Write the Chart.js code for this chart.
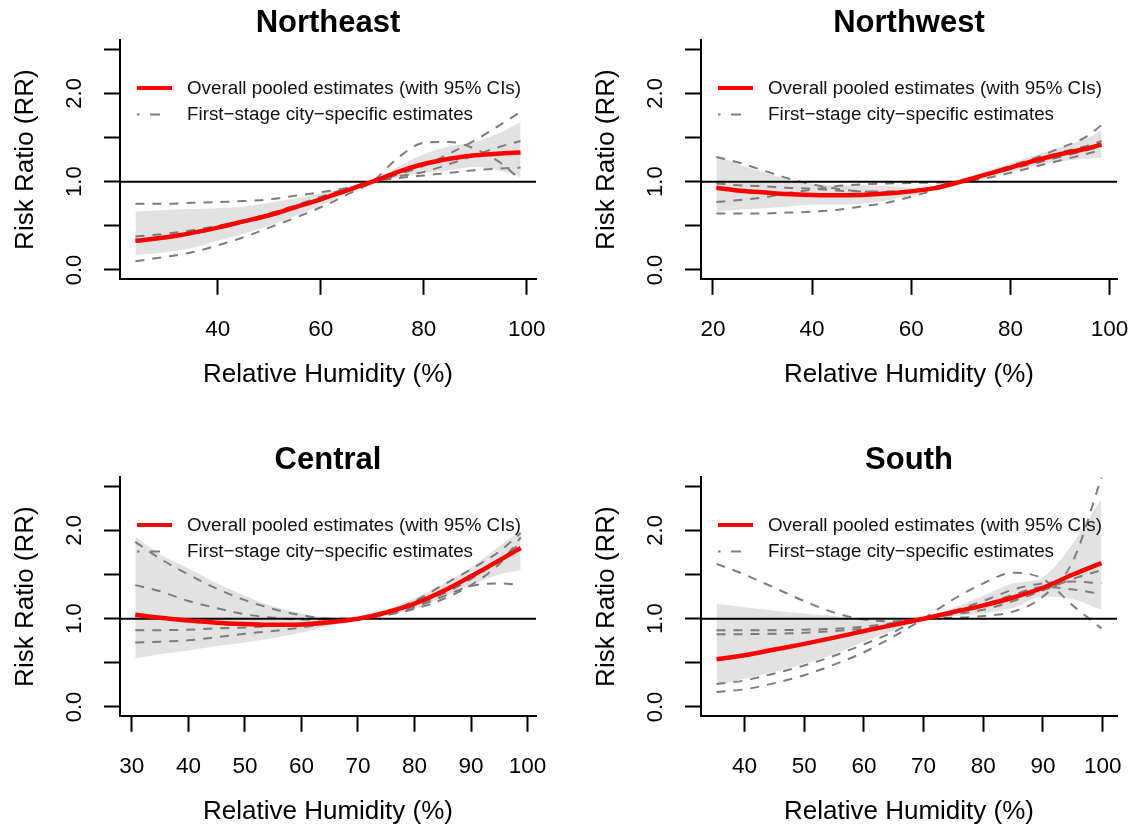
<!DOCTYPE html>
<html><head><meta charset="utf-8">
<script src="https://cdn.jsdelivr.net/npm/chart.js@4.4.1/dist/chart.umd.min.js"></script>
<style>
html,body{margin:0;padding:0;background:#fff;width:1144px;height:827px;overflow:hidden;position:relative;}
canvas.panel{position:absolute;}
</style></head><body>
<canvas id="pNE" class="panel" width="572" height="390" style="left:0px;top:0px;width:572px;height:390px"></canvas>
<canvas id="pNW" class="panel" width="563" height="390" style="left:581px;top:0px;width:563px;height:390px"></canvas>
<canvas id="pC" class="panel" width="572" height="390" style="left:0px;top:437px;width:572px;height:390px"></canvas>
<canvas id="pS" class="panel" width="563" height="390" style="left:581px;top:437px;width:563px;height:390px"></canvas>
<script>
// ---------------- shared axis / label data ----------------
const yTicks = [0, 0.5, 1, 1.5, 2, 2.5];
const yTickLabels = ['0.0', '', '1.0', '', '2.0', ''];
const yRange = [-0.1, 2.6];
const refRR = 1;
const xAxisTitle = 'Relative Humidity (%)';
const yAxisTitle = 'Risk Ratio (RR)';
const legendLabels = ['Overall pooled estimates (with 95% CIs)', 'First\u2212stage city\u2212specific estimates'];

// ---------------- Northeast ----------------
const neHumidity = [24, 30, 35, 40, 45, 50, 55, 60, 65, 70, 75, 80, 85, 90, 95, 98.8];
const neRR       = [0.33, 0.37, 0.42, 0.48, 0.55, 0.62, 0.71, 0.80, 0.90, 1.00, 1.11, 1.20, 1.26, 1.30, 1.32, 1.33];
const neUpper    = [0.66, 0.68, 0.69, 0.70, 0.72, 0.76, 0.81, 0.87, 0.93, 1.00, 1.17, 1.31, 1.40, 1.45, 1.56, 1.68];
const neLower    = [0.17, 0.20, 0.25, 0.33, 0.41, 0.50, 0.61, 0.73, 0.87, 1.00, 1.05, 1.10, 1.13, 1.17, 1.12, 1.05];
const neCity1    = [0.10, 0.15, 0.20, 0.28, 0.37, 0.48, 0.59, 0.71, 0.85, 1.00, 1.27, 1.44, 1.45, 1.37, 1.21, 1.02];
const neCity2    = [0.75, 0.75, 0.76, 0.77, 0.78, 0.80, 0.84, 0.88, 0.93, 1.00, 1.08, 1.18, 1.32, 1.47, 1.65, 1.79];
const neCity3    = [0.38, 0.41, 0.45, 0.50, 0.56, 0.64, 0.73, 0.83, 0.92, 1.00, 1.06, 1.11, 1.20, 1.30, 1.40, 1.46];
const neCity4    = [0.32, 0.36, 0.41, 0.47, 0.54, 0.61, 0.70, 0.79, 0.89, 1.00, 1.04, 1.07, 1.10, 1.13, 1.15, 1.16];
const neXRange = [21.0, 101.8];
const neXTicks = [40, 60, 80, 100];

// ---------------- Northwest ----------------
const nwHumidity = [20.7, 25, 30, 35, 40, 45, 50, 55, 60, 65, 70, 75, 80, 85, 90, 95, 98.4];
const nwRR       = [0.93, 0.90, 0.88, 0.86, 0.85, 0.845, 0.85, 0.865, 0.89, 0.93, 1.00, 1.08, 1.16, 1.24, 1.31, 1.37, 1.42];
const nwUpper    = [1.30, 1.20, 1.11, 1.03, 0.98, 0.96, 0.96, 0.95, 0.93, 0.95, 1.00, 1.12, 1.21, 1.30, 1.39, 1.48, 1.58];
const nwLower    = [0.66, 0.68, 0.70, 0.72, 0.74, 0.74, 0.75, 0.79, 0.84, 0.91, 1.00, 1.04, 1.11, 1.18, 1.23, 1.26, 1.27];
const nwCity1    = [1.28, 1.22, 1.13, 1.04, 0.97, 0.92, 0.89, 0.88, 0.90, 0.94, 1.00, 1.08, 1.17, 1.25, 1.33, 1.40, 1.46];
const nwCity2    = [0.64, 0.64, 0.64, 0.65, 0.66, 0.68, 0.72, 0.76, 0.83, 0.91, 1.00, 1.09, 1.18, 1.27, 1.38, 1.50, 1.64];
const nwCity3    = [0.77, 0.79, 0.82, 0.87, 0.91, 0.95, 0.97, 0.98, 0.985, 0.99, 1.00, 1.04, 1.10, 1.17, 1.24, 1.31, 1.36];
const nwCity4    = [0.98, 0.96, 0.95, 0.93, 0.92, 0.90, 0.89, 0.89, 0.90, 0.94, 1.00, 1.07, 1.14, 1.21, 1.28, 1.35, 1.40];
const nwXRange = [17.6, 101.5];
const nwXTicks = [20, 40, 60, 80, 100];

// ---------------- Central ----------------
const ceHumidity = [30.6, 35, 40, 45, 50, 55, 60, 65, 70, 75, 80, 85, 90, 95, 98.8];
const ceRR       = [1.045, 1.01, 0.98, 0.955, 0.94, 0.93, 0.935, 0.96, 1.00, 1.07, 1.17, 1.31, 1.48, 1.66, 1.80];
const ceUpper    = [1.93, 1.73, 1.57, 1.40, 1.26, 1.14, 1.06, 1.01, 1.00, 1.10, 1.23, 1.39, 1.58, 1.82, 2.00];
const ceLower    = [0.55, 0.60, 0.64, 0.69, 0.73, 0.78, 0.84, 0.92, 1.00, 1.04, 1.11, 1.24, 1.38, 1.50, 1.55];
const ceCity1    = [1.87, 1.68, 1.50, 1.34, 1.21, 1.11, 1.04, 1.00, 1.00, 1.05, 1.13, 1.25, 1.37, 1.40, 1.38];
const ceCity2    = [1.38, 1.31, 1.20, 1.12, 1.05, 1.01, 0.99, 0.99, 1.00, 1.08, 1.20, 1.38, 1.56, 1.76, 1.97];
const ceCity3    = [0.87, 0.87, 0.875, 0.89, 0.90, 0.92, 0.94, 0.97, 1.00, 1.06, 1.15, 1.28, 1.45, 1.66, 1.86];
const ceCity4    = [0.73, 0.74, 0.755, 0.79, 0.83, 0.86, 0.90, 0.95, 1.00, 1.04, 1.11, 1.22, 1.38, 1.62, 1.92];
const ceXRange = [27.9, 101.5];
const ceXTicks = [30, 40, 50, 60, 70, 80, 90, 100];

// ---------------- South ----------------
const soHumidity = [35.3, 40, 45, 50, 55, 60, 65, 70, 75, 80, 85, 90, 95, 99.8];
const soRR       = [0.54, 0.585, 0.65, 0.715, 0.785, 0.86, 0.93, 1.00, 1.075, 1.15, 1.24, 1.35, 1.50, 1.63];
const soUpper    = [1.17, 1.13, 1.09, 1.06, 1.03, 0.99, 0.98, 1.00, 1.12, 1.26, 1.40, 1.47, 1.85, 2.36];
const soLower    = [0.245, 0.32, 0.40, 0.49, 0.60, 0.74, 0.87, 1.00, 1.03, 1.06, 1.12, 1.25, 1.22, 1.10];
const soCity1    = [1.62, 1.50, 1.35, 1.20, 1.07, 0.99, 0.97, 1.00, 1.05, 1.10, 1.20, 1.32, 1.45, 1.55];
const soCity2    = [0.17, 0.20, 0.27, 0.36, 0.48, 0.62, 0.80, 1.00, 1.22, 1.40, 1.52, 1.45, 1.15, 0.89];
const soCity3    = [0.26, 0.30, 0.38, 0.47, 0.58, 0.71, 0.85, 1.00, 1.01, 1.03, 1.08, 1.25, 1.65, 2.60];
const soCity4    = [0.87, 0.87, 0.87, 0.875, 0.885, 0.91, 0.95, 1.00, 1.07, 1.16, 1.27, 1.36, 1.33, 1.28];
const soCity5    = [0.825, 0.825, 0.83, 0.84, 0.86, 0.89, 0.94, 1.00, 1.09, 1.20, 1.33, 1.40, 1.42, 1.40];
const soXRange = [32.7, 102.4];
const soXTicks = [40, 50, 60, 70, 80, 90, 100];

// ---------------- styling ----------------
const FONT = '"Liberation Sans", Arial, Helvetica, sans-serif';
const RED = '#ff0000';
const BAND = '#e2e2e2';
const DASH = '#7c7c7c';
const PLOT_RIGHT = 536;
const PLOT_BOTTOM = 278.8;
const PLOT_LEFT = 120;

Chart.defaults.font.family = FONT;

const zip = (xs, ys) => xs.map((x, i) => ({x: x, y: ys[i]}));

const legendPlugin = {
  id: 'rLegend',
  afterDatasetsDraw(chart) {
    const ctx = chart.ctx;
    const a = chart.chartArea;
    const x0 = a.left + 17, y1 = a.top + 47.5, y2 = a.top + 74;
    ctx.save();
    ctx.lineCap = 'butt';
    ctx.strokeStyle = RED; ctx.lineWidth = 4;
    ctx.beginPath(); ctx.moveTo(x0, y1); ctx.lineTo(x0 + 35, y1); ctx.stroke();
    ctx.strokeStyle = DASH; ctx.lineWidth = 2;
    ctx.beginPath();
    ctx.moveTo(x0, y2); ctx.lineTo(x0 + 2.5, y2);
    ctx.moveTo(x0 + 13, y2); ctx.lineTo(x0 + 23, y2);
    ctx.stroke();
    ctx.fillStyle = '#111';
    ctx.font = '18.8px ' + FONT;
    ctx.textAlign = 'left'; ctx.textBaseline = 'middle';
    ctx.fillText(legendLabels[0], x0 + 50, y1 + 0.5);
    ctx.fillText(legendLabels[1], x0 + 50, y2 + 0.5);
    ctx.restore();
  }
};

function makePanel(id, title, xs, rr, up, lo, cities, xRange, xTicks) {
  const canvas = document.getElementById(id);
  const W = canvas.width, H = canvas.height;
  const datasets = [];
  datasets.push({data: zip(xs, lo), borderWidth: 0, borderColor: 'rgba(0,0,0,0)', fill: false, order: 10});
  datasets.push({data: zip(xs, up), borderWidth: 0, borderColor: 'rgba(0,0,0,0)', backgroundColor: BAND, fill: '-1', order: 9});
  cities.forEach(c => datasets.push({data: zip(xs, c), borderColor: DASH, borderWidth: 2, borderDash: [9, 8], fill: false, order: 5}));
  datasets.push({data: [{x: xRange[0], y: refRR}, {x: xRange[1], y: refRR}], borderColor: '#000', borderWidth: 2, fill: false, order: 2, cubicInterpolationMode: 'default', tension: 0});
  datasets.push({data: zip(xs, rr), borderColor: RED, borderWidth: 4.5, fill: false, order: 0});

  const axisGrid = {drawOnChartArea: false, drawTicks: true, tickLength: 16, tickWidth: 2, tickColor: '#000'};
  const axisBorder = {display: true, color: '#000', width: 2};

  new Chart(canvas, {
    type: 'line',
    data: {datasets: datasets},
    options: {
      responsive: false,
      animation: false,
      events: [],
      elements: {point: {radius: 0}, line: {cubicInterpolationMode: 'monotone', borderCapStyle: 'butt'}},
      layout: {padding: {left: 0, right: W - PLOT_RIGHT, top: 0, bottom: 0}},
      plugins: {
        legend: {display: false},
        tooltip: {enabled: false},
        title: {display: true, text: title, fullSize: false, color: '#000',
          font: {family: FONT, size: 31, weight: 'bold', lineHeight: 1.1},
          padding: {top: 6, bottom: 0.3}}
      },
      scales: {
        x: {
          type: 'linear', position: 'bottom', min: xRange[0], max: xRange[1],
          afterBuildTicks: s => { s.ticks = xTicks.map(v => ({value: v})); },
          afterFit: s => { s.height = H - PLOT_BOTTOM; s.paddingLeft = 0; s.paddingRight = 0; },
          grid: axisGrid, border: axisBorder,
          ticks: {autoSkip: false, maxRotation: 0, minRotation: 0, padding: 21, color: '#000',
            font: {family: FONT, size: 22.5}, callback: v => String(v)},
          title: {display: true, text: xAxisTitle, color: '#000', font: {family: FONT, size: 26}, padding: {top: 0, bottom: 0}}
        },
        y: {
          type: 'linear', position: 'left', min: yRange[0], max: yRange[1],
          afterBuildTicks: s => { s.ticks = yTicks.map(v => ({value: v})); },
          afterFit: s => { s.width = PLOT_LEFT; s.paddingTop = 0; s.paddingBottom = 0; },
          grid: axisGrid, border: axisBorder,
          ticks: {autoSkip: false, minRotation: 90, maxRotation: 90, crossAlign: 'center', padding: 13.5, color: '#000',
            font: {family: FONT, size: 22}, callback: (v, i) => yTickLabels[i]},
          title: {display: true, text: yAxisTitle, color: '#000', font: {family: FONT, size: 26}, padding: {top: 10, bottom: 0}}
        }
      }
    },
    plugins: [legendPlugin]
  });
}

makePanel('pNE', 'Northeast', neHumidity, neRR, neUpper, neLower, [neCity1, neCity2, neCity3, neCity4], neXRange, neXTicks);
makePanel('pNW', 'Northwest', nwHumidity, nwRR, nwUpper, nwLower, [nwCity1, nwCity2, nwCity3, nwCity4], nwXRange, nwXTicks);
makePanel('pC', 'Central', ceHumidity, ceRR, ceUpper, ceLower, [ceCity1, ceCity2, ceCity3, ceCity4], ceXRange, ceXTicks);
makePanel('pS', 'South', soHumidity, soRR, soUpper, soLower, [soCity1, soCity2, soCity3, soCity4, soCity5], soXRange, soXTicks);
</script>
</body></html>
